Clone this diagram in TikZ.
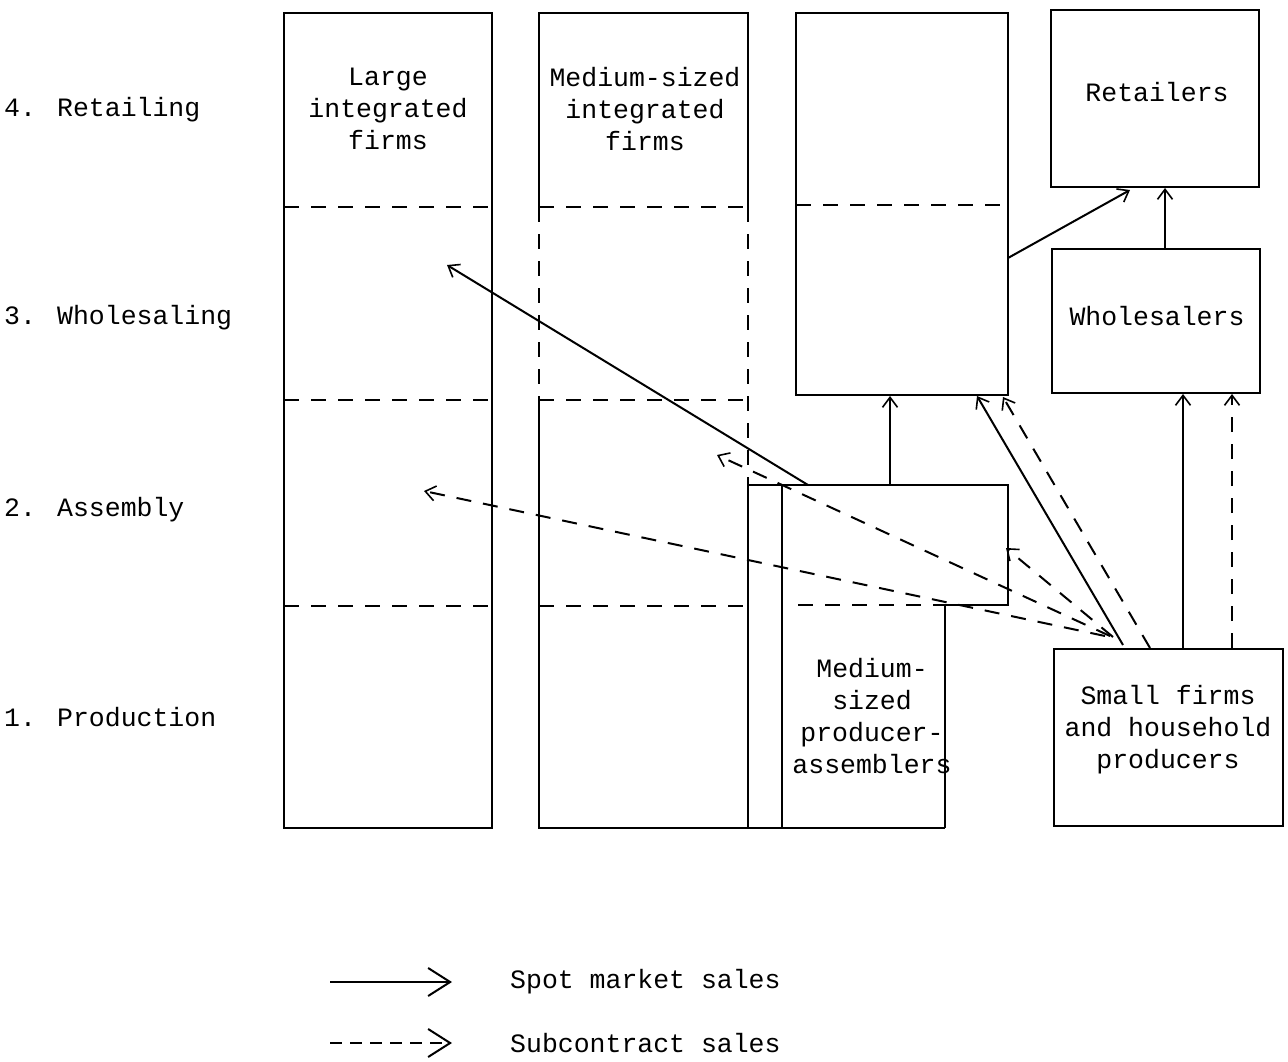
\documentclass[tikz,border=0pt]{standalone}
\usepackage{fontspec}
\setmainfont{Liberation Mono}
\usetikzlibrary{arrows.meta}
\begin{document}
\begin{tikzpicture}[x=1pt,y=-1pt,
  ln/.style={line width=2pt},
  dsh/.style={line width=2pt, dash pattern=on 15pt off 12pt},
  tip/.style={-{Straight Barb[length=10pt,width=15pt,line width=1.6pt]}},
  spot/.style={ln, tip},
  sub/.style={dsh, tip},
  bigtip/.style={-{Straight Barb[length=22pt,width=28pt,line width=2pt]}},
  lbl/.style={font=\fontsize{26.5}{32}\selectfont, align=center, inner sep=0pt},
  box/.style={draw, line width=2pt, inner sep=0pt},
]
\useasboundingbox (0,0) rectangle (1288,1061);

% stage labels on the left
\node[lbl, anchor=west] (l4) at (4,110) {4. Retailing};
\node[lbl, anchor=west] (l3) at (4,318) {3. Wholesaling};
\node[lbl, anchor=west] (l2) at (4,510) {2. Assembly};
\node[lbl, anchor=west] (l1) at (4,717) {1. Production};

% large integrated firms
\draw[ln] (284,13) rectangle (492,828);
\foreach \y in {207,400,606} \draw[dsh] (284,\y) -- (492,\y);
\node[lbl] (large) at (388,109) {Large\\integrated\\firms};

% medium-sized integrated firms
\draw[ln] (539,207) -- (539,13) -- (748,13) -- (748,207);
\draw[dsh] (539,207) -- (539,400);
\draw[dsh] (748,207) -- (748,485);
\draw[ln] (539,400) -- (539,828) -- (945,828);
\foreach \y in {207,400,606} \draw[dsh] (539,\y) -- (748,\y);
\node[lbl] (medint) at (645,109) {Medium-sized\\integrated\\firms};

% vertically integrated block without production
\draw[ln] (796,13) rectangle (1008,395);
\draw[dsh] (796,205) -- (1008,205);

% medium-sized producer-assemblers
\draw[ln] (748,828) -- (748,485) -- (1008,485) -- (1008,605) -- (945,605) -- (945,828);
\draw[ln] (782,485) -- (782,828);
\draw[dsh] (798,605) -- (945,605);
\node[lbl] (prodasm) at (872,716) {Medium-\\sized\\producer-\\assemblers};

% independent retailers, wholesalers and small producers
\node[box, minimum width=208pt, minimum height=177pt] (ret) at (1155,98.5) {};
\node[lbl] (rettext) at (1157,92) {Retailers};
\node[box, minimum width=208pt, minimum height=144pt] (whole) at (1156,321) {};
\node[lbl] (wholetext) at (1157,316) {Wholesalers};
\node[box, minimum width=229pt, minimum height=177pt] (small) at (1168.5,737.5) {};
\node[lbl] (smalltext) at (1168,730) {Small firms\\and household\\producers};

% connector end points
\coordinate (c3r) at (1008,258);
\coordinate (retin) at (1130,190);
\coordinate (pa1) at (890,485);
\coordinate (c3a) at (890,396);
\coordinate (c3b) at (977,396);
\coordinate (c3c) at (1003,397);
\coordinate (sf1) at (1123,645);
\coordinate (sf2) at (1150,648);
\coordinate (sf3) at (1113,637);
\coordinate (sf4) at (1110,636);
\coordinate (sf5) at (1105,636);
\coordinate (paR) at (1006,548);
\coordinate (mi2) at (717,455);
\coordinate (lg2) at (424,491);
\coordinate (pa2) at (808,485);
\coordinate (lg3) at (447,265);

% spot market sales
\draw[spot] (c3r) -- (retin);
\draw[spot] (whole.north -| 1165,0) -- (ret.south -| 1165,0);
\draw[spot] (pa1) -- (c3a);
\draw[spot] (sf1) -- (c3b);
\draw[spot] (small.north -| 1183,0) -- (whole.south -| 1183,0);
\draw[spot] (pa2) -- (lg3);

% subcontract sales
\draw[sub] (sf2) -- (c3c);
\draw[sub] (small.north -| 1232,0) -- (whole.south -| 1232,0);
\draw[sub] (sf3) -- (paR);
\draw[sub] (sf4) -- (mi2);
\draw[sub] (sf5) -- (lg2);

% key
\coordinate (k1a) at (330,982);
\coordinate (k1b) at (452,982);
\coordinate (k2a) at (330,1043);
\coordinate (k2b) at (452,1043);
\draw[ln, bigtip] (k1a) -- (k1b);
\draw[line width=2pt, dash pattern=on 12pt off 8pt, bigtip] (k2a) -- (k2b);
\node[lbl, anchor=west] (key1) at (510,982) {Spot market sales};
\node[lbl, anchor=west] (key2) at (510,1043) {Subcontract sales};
\end{tikzpicture}
\end{document}
